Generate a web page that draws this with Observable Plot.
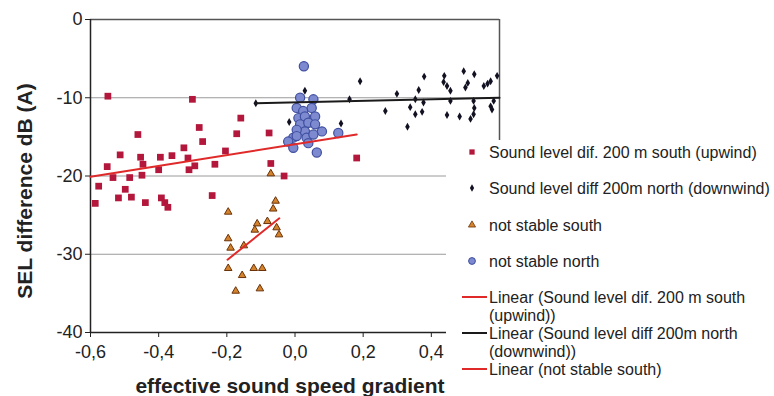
<!DOCTYPE html>
<html>
<head>
<meta charset="utf-8">
<script src="https://cdn.jsdelivr.net/npm/d3@7"></script>
<script src="https://cdn.jsdelivr.net/npm/@observablehq/plot@0.6"></script>
<style>
  html, body { margin: 0; padding: 0; background: #fff; }
  #wrap { position: relative; width: 774px; height: 396px; overflow: hidden; font-family: "Liberation Sans", Arial, sans-serif; }
  .title { position: absolute; font-weight: bold; font-size: 21px; color: #222; white-space: nowrap; }
  #legend { position: absolute; left: 446px; top: 140px; }
</style>
</head>
<body>
<div id="wrap"></div>
<script>
// ---- data ----
const southX = [-0.549,-0.301,-0.461,-0.281,-0.271,-0.159,-0.171,-0.076,-0.513,-0.453,-0.446,-0.395,-0.361,-0.326,-0.314,-0.294,-0.311,-0.204,-0.235,-0.071,-0.551,-0.400,-0.534,-0.485,-0.449,-0.576,-0.498,-0.518,-0.480,-0.586,-0.439,-0.392,-0.382,-0.373,-0.243,-0.032,0.181];
const southY = [-9.8,-10.2,-14.7,-13.8,-15.6,-12.6,-14.6,-14.5,-17.3,-17.6,-18.5,-17.6,-17.4,-16.4,-17.7,-18.7,-19.2,-16.8,-18.5,-18.4,-18.8,-19.2,-20.2,-20.2,-19.9,-21.3,-21.7,-22.8,-22.7,-23.5,-23.4,-22.8,-23.4,-24.0,-22.5,-20.0,-17.7];

const northX = [-0.115,0.029,-0.017,0.135,0.191,0.160,0.265,0.299,0.330,0.338,0.353,0.373,0.353,0.377,0.363,0.379,0.438,0.436,0.446,0.456,0.495,0.526,0.507,0.500,0.456,0.446,0.483,0.515,0.524,0.526,0.524,0.554,0.565,0.574,0.593,0.574,0.578,0.583];
const northY = [-10.7,-9.1,-13.1,-13.3,-7.9,-10.2,-11.7,-9.5,-13.7,-11.2,-12.1,-11.8,-10.2,-10.6,-9.0,-7.3,-7.2,-8.0,-8.5,-9.1,-6.6,-7.0,-8.1,-8.7,-10.4,-12.2,-12.4,-12.7,-12.1,-11.3,-10.4,-8.5,-8.2,-7.9,-7.2,-11.1,-11.5,-10.4];

const nsSouthX = [-0.071,-0.196,-0.057,-0.064,-0.111,-0.081,-0.118,-0.054,-0.047,-0.196,-0.189,-0.150,-0.196,-0.155,-0.121,-0.096,-0.174,-0.103];
const nsSouthY = [-19.7,-24.6,-23.2,-24.2,-26.1,-25.8,-26.9,-26.6,-27.5,-28.0,-29.2,-28.9,-31.8,-32.7,-31.8,-31.8,-34.7,-34.4];

const nsNorthX = [0.026,0.015,0.054,0.005,0.024,0.049,0.010,0.029,0.059,0.015,0.039,0.059,0.079,0.029,0.005,-0.005,-0.020,0.005,0.034,0.039,0.054,-0.005,0.064,0.127];
const nsNorthY = [-5.97,-10.0,-10.2,-11.3,-11.7,-11.3,-12.6,-12.4,-12.4,-13.4,-13.2,-13.4,-14.3,-14.3,-14.1,-15.1,-15.6,-14.9,-15.1,-15.8,-14.7,-16.4,-17.0,-14.5];

// linear trend lines (end points)
const trendSouthX = [-0.6, 0.181], trendSouthY = [-20.1, -14.7];
const trendNorthX = [-0.115, 0.6], trendNorthY = [-10.7, -10.0];
const trendNsSouthX = [-0.198, -0.046], trendNsSouthY = [-30.7, -25.4];

const xTicks = [-0.6, -0.4, -0.2, 0, 0.2, 0.4];
const yTicks = [0, -10, -20, -30, -40];
const gridTicks = [-10, -20, -30];

const legendLabels = [
  ["Sound level dif. 200 m south (upwind)"],
  ["Sound level diff 200m north (downwind)"],
  ["not stable south"],
  ["not stable north"],
  ["Linear (Sound level dif. 200 m south", "(upwind))"],
  ["Linear (Sound level diff 200m north", "(downwind))"],
  ["Linear (not stable south)"]
];
const xTitle = "effective sound speed gradient";
const yTitle = "SEL difference dB (A)";

// ---- colours ----
const cSouth = "#b3173c", cNorth = "#111122", cTriFill = "#d4832c", cTriStroke = "#6a3208";
const cCircFill = "#7d8ad0", cCircStroke = "#3f4f9f", cRed = "#e02a2a", cBlack = "#1a1a1a";

const pts = (xs, ys) => xs.map((x, i) => ({x, y: ys[i]}));
const fmtX = d => d.toFixed(1).replace(".", ",");

const chart = Plot.plot({
  width: 774, height: 396,
  marginLeft: 90, marginRight: 275, marginTop: 19, marginBottom: 64,
  x: {domain: [-0.6, 0.6]},
  y: {domain: [-40, 0]},
  style: {fontFamily: "'Liberation Sans', Arial, sans-serif", fontSize: "18px", color: "#222", background: "#fff"},
  marks: [
    Plot.gridY(gridTicks, {stroke: "#9a9a9a", strokeOpacity: 1}),
    Plot.ruleY([0], {stroke: "#555", strokeWidth: 1.5}),
    Plot.ruleX([0.6], {stroke: "#555", strokeWidth: 1.5}),
    Plot.ruleX([-0.6], {stroke: "#222", strokeWidth: 1.5}),
    Plot.ruleY([-40], {stroke: "#222", strokeWidth: 1.5}),
    Plot.axisY(yTicks, {tickSize: 5, tickPadding: 3, tickFormat: d => String(d), label: null, stroke: "#222"}),
    Plot.axisX(xTicks, {tickSize: 5, tickPadding: 8, tickFormat: fmtX, label: null, stroke: "#222"}),
    Plot.dot(pts(southX, southY), {x: "x", y: "y", symbol: "square", r: 3.8, fill: cSouth}),
    Plot.dot(pts(northX, northY), {x: "x", y: "y", symbol: "diamond", r: 2.4, fill: cNorth}),
    Plot.dot(pts(nsSouthX, nsSouthY), {x: "x", y: "y", symbol: "triangle", r: 2.8, fill: cTriFill, stroke: cTriStroke, strokeWidth: 1}),
    Plot.dot(pts(nsNorthX, nsNorthY), {x: "x", y: "y", symbol: "circle", r: 4.6, fill: cCircFill, stroke: cCircStroke, strokeWidth: 1.2}),
    Plot.line(pts(trendSouthX, trendSouthY), {x: "x", y: "y", stroke: cRed, strokeWidth: 2}),
    Plot.line(pts(trendNorthX, trendNorthY), {x: "x", y: "y", stroke: cBlack, strokeWidth: 2}),
    Plot.line(pts(trendNsSouthX, trendNsSouthY), {x: "x", y: "y", stroke: cRed, strokeWidth: 2})
  ]
});

const wrap = document.getElementById("wrap");
wrap.appendChild(chart);

// axis titles
const yt = document.createElement("div");
yt.className = "title";
yt.textContent = yTitle;
yt.style.left = "25px"; yt.style.top = "191px";
yt.style.transform = "translate(-50%,-50%) rotate(-90deg)";
wrap.appendChild(yt);

const xt = document.createElement("div");
xt.className = "title";
xt.textContent = xTitle;
xt.style.left = "290px"; xt.style.top = "386px";
xt.style.transform = "translate(-50%,-50%)";
wrap.appendChild(xt);

// legend (overlays the lower right of the plot area, as in the original)
const lw = 328, lh = 256;
const leg = d3.select(wrap).append("svg").attr("id", "legend").attr("width", lw).attr("height", lh);
leg.append("rect").attr("width", lw).attr("height", lh).attr("fill", "#fff");
const mx = 26, tx = 43;
const rows = [12, 48, 85, 121, 157, 193, 229];
const sym = (type, size) => d3.symbol().type(type).size(size)();
leg.append("path").attr("d", sym(d3.symbolSquare, 28)).attr("transform", `translate(${mx},${rows[0]})`).attr("fill", cSouth);
leg.append("path").attr("d", sym(d3.symbolDiamond, 16)).attr("transform", `translate(${mx},${rows[1]})`).attr("fill", cNorth);
leg.append("path").attr("d", sym(d3.symbolTriangle, 22)).attr("transform", `translate(${mx},${rows[2]})`).attr("fill", cTriFill).attr("stroke", cTriStroke).attr("stroke-width", 0.8);
leg.append("circle").attr("cx", mx).attr("cy", rows[3]).attr("r", 3.4).attr("fill", cCircFill).attr("stroke", cCircStroke);
[[rows[4], cRed], [rows[5], cBlack], [rows[6], cRed]].forEach(([y, c]) => {
  leg.append("line").attr("x1", 16).attr("x2", 41).attr("y1", y).attr("y2", y).attr("stroke", c).attr("stroke-width", 2);
});
legendLabels.forEach((lines, i) => {
  lines.forEach((t, j) => {
    leg.append("text").attr("x", tx).attr("y", rows[i] + j * 18.5).attr("dy", "0.35em")
      .attr("font-size", 16).attr("fill", "#222").attr("font-family", "'Liberation Sans', Arial, sans-serif").text(t);
  });
});
</script>
</body>
</html>
